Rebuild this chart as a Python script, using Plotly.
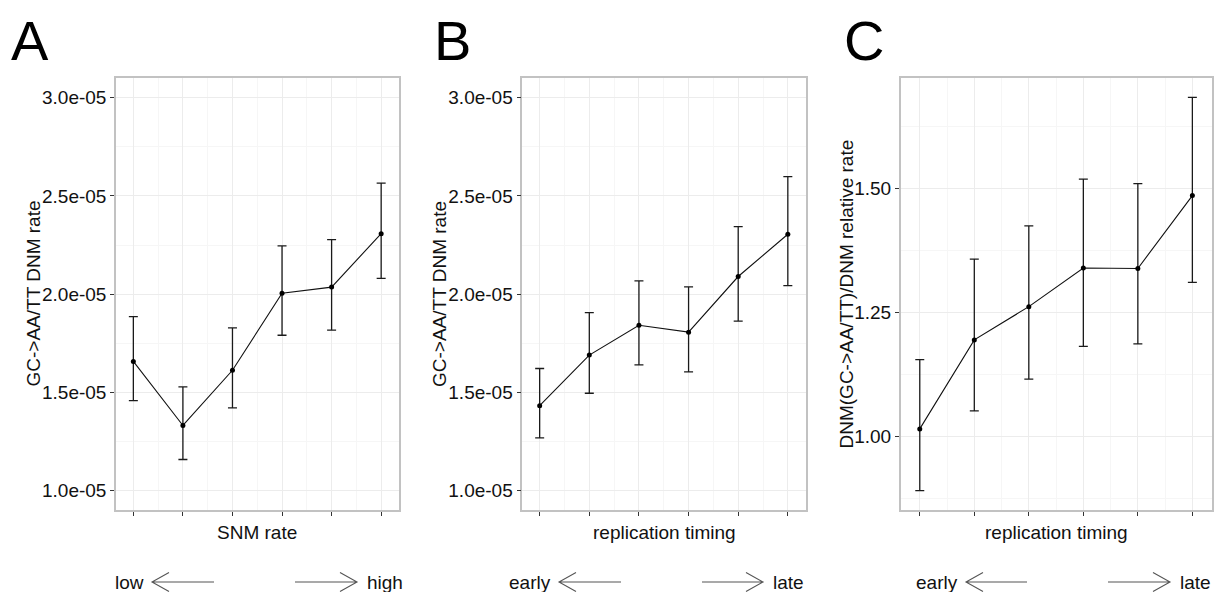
import plotly.graph_objects as go

# ---------------- data ----------------
bins = [1, 2, 3, 4, 5, 6]

# Panel A: GC->AA/TT DNM rate vs SNM rate
a_rate = [1.658e-05, 1.332e-05, 1.613e-05, 2.005e-05, 2.036e-05, 2.308e-05]
a_upper = [1.886e-05, 1.528e-05, 1.829e-05, 2.246e-05, 2.278e-05, 2.565e-05]
a_lower = [1.459e-05, 1.159e-05, 1.422e-05, 1.791e-05, 1.817e-05, 2.081e-05]

# Panel B: GC->AA/TT DNM rate vs replication timing
b_rate = [1.433e-05, 1.690e-05, 1.842e-05, 1.807e-05, 2.090e-05, 2.305e-05]
b_upper = [1.622e-05, 1.906e-05, 2.068e-05, 2.037e-05, 2.344e-05, 2.598e-05]
b_lower = [1.269e-05, 1.496e-05, 1.640e-05, 1.605e-05, 1.863e-05, 2.044e-05]

# Panel C: relative rate vs replication timing
c_rate = [1.0155, 1.195, 1.262, 1.340, 1.339, 1.486]
c_upper = [1.155, 1.358, 1.425, 1.519, 1.510, 1.684]
c_lower = [0.891, 1.052, 1.116, 1.182, 1.187, 1.311]

ab_ticks = [1.0e-05, 1.5e-05, 2.0e-05, 2.5e-05, 3.0e-05]
ab_ticktext = ["1.0e-05", "1.5e-05", "2.0e-05", "2.5e-05", "3.0e-05"]
ab_minor = [1.25e-05, 1.75e-05, 2.25e-05, 2.75e-05]
c_ticks = [1.00, 1.25, 1.50]
c_ticktext = ["1.00", "1.25", "1.50"]
c_minor = [0.875, 1.125, 1.375, 1.625]

panel_letters = ["A", "B", "C"]
y_titles = ["GC->AA/TT DNM rate", "GC->AA/TT DNM rate", "DNM(GC->AA/TT)/DNM relative rate"]
x_titles = ["SNM rate", "replication timing", "replication timing"]
low_labels = ["low", "early", "early"]
high_labels = ["high", "late", "late"]

# ---------------- layout constants (page pixels) ----------------
OFF = 8                      # default body margin of the html page
FW, FH = 1224 - 2 * OFF, 600 - 2 * OFF
FONT = "Liberation Sans, Arial, Helvetica, sans-serif"
TXT = "#111111"
plot_x = [(116, 399), (522.3, 805.7), (900.7, 1212)]
plot_y = (78, 510)
letter_x = [10, 433, 843]
ytitle_x = [32.5, 439, 845.5]
arrow_left = [(152, 214), (559, 621), (966, 1027)]
arrow_right = [(295, 357), (702, 763), (1108, 1170)]
arrow_y = 582


def px(x):
    return (x - OFF) / FW


def py(y):
    return 1 - (y - OFF) / FH


fig = go.Figure()

series = [
    (a_rate, a_upper, a_lower),
    (b_rate, b_upper, b_lower),
    (c_rate, c_upper, c_lower),
]

for i, (rate, up, lo) in enumerate(series):
    n = i + 1
    xa = "x" if n == 1 else f"x{n}"
    ya = "y" if n == 1 else f"y{n}"
    fig.add_trace(go.Scatter(
        x=bins, y=rate, xaxis=xa, yaxis=ya,
        mode="lines+markers",
        line=dict(color="#111111", width=1.1),
        marker=dict(color="#000000", size=5),
        error_y=dict(
            type="data", symmetric=False,
            array=[u - r for u, r in zip(up, rate)],
            arrayminus=[r - l for r, l in zip(rate, lo)],
            color="#1a1a1a", thickness=1.3, width=4.5,
        ),
        showlegend=False, hoverinfo="skip",
    ))

grid_major = "#ececec"
grid_minor = "#f6f6f6"
border = "#c2c2c2"

layout = dict(
    width=FW, height=FH,
    margin=dict(l=0, r=0, t=0, b=0),
    paper_bgcolor="white", plot_bgcolor="white",
    font=dict(family=FONT, size=19, color=TXT),
    showlegend=False,
)

for i in range(3):
    n = i + 1
    xk = "xaxis" if n == 1 else f"xaxis{n}"
    yk = "yaxis" if n == 1 else f"yaxis{n}"
    x0, x1 = plot_x[i]
    layout[xk] = dict(
        domain=[px(x0), px(x1)], anchor="y" if n == 1 else f"y{n}",
        range=[0.65, 6.36], tickmode="linear", tick0=1, dtick=1,
        showticklabels=False, ticks="outside", ticklen=4, tickwidth=1.2, tickcolor="#333333",
        showgrid=True, gridcolor=grid_major, gridwidth=1,
        minor=dict(tickmode="linear", tick0=0.5, dtick=1, showgrid=True,
                   gridcolor=grid_minor, gridwidth=1, ticks=""),
        showline=True, linecolor=border, linewidth=1.5, mirror=True,
        zeroline=False, automargin=False, fixedrange=True,
    )
    if i < 2:
        yrange = [0.902e-05, 3.1e-05]
        tv, tt, mv = ab_ticks, ab_ticktext, ab_minor
    else:
        yrange = [0.852, 1.723]
        tv, tt, mv = c_ticks, c_ticktext, c_minor
    layout[yk] = dict(
        domain=[py(plot_y[1]), py(plot_y[0])], anchor="x" if n == 1 else f"x{n}",
        range=yrange, tickmode="array", tickvals=tv, ticktext=tt,
        tickfont=dict(family=FONT, size=19, color=TXT),
        ticks="outside", ticklen=4, tickwidth=1.2, tickcolor="#333333",
        showgrid=True, gridcolor=grid_major, gridwidth=1,
        minor=dict(tickmode="array", tickvals=mv, showgrid=True,
                   gridcolor=grid_minor, gridwidth=1, ticks=""),
        showline=True, linecolor=border, linewidth=1.5, mirror=True,
        zeroline=False, automargin=False, fixedrange=True,
    )

fig.update_layout(**layout)

annotations = []
shapes = []
for i in range(3):
    x0, x1 = plot_x[i]
    # panel letter (box kept inside the figure's top edge)
    annotations.append(dict(
        text=panel_letters[i], x=px(letter_x[i]), y=1.0, xref="paper", yref="paper",
        xanchor="left", yanchor="top", showarrow=False, borderpad=0,
        font=dict(family=FONT, size=56, color="#000000"),
    ))
    # y title
    annotations.append(dict(
        text=y_titles[i], x=px(ytitle_x[i]), y=py((plot_y[0] + plot_y[1]) / 2),
        xref="paper", yref="paper", xanchor="center", yanchor="middle",
        textangle=-90, showarrow=False,
        font=dict(family=FONT, size=19, color=TXT),
    ))
    # x title
    annotations.append(dict(
        text=x_titles[i], x=px((x0 + x1) / 2), y=py(532), xref="paper", yref="paper",
        xanchor="center", yanchor="middle", showarrow=False,
        font=dict(family=FONT, size=19, color=TXT),
    ))
    # low / high labels
    lt, lb = arrow_left[i]
    rt, rh = arrow_right[i]
    annotations.append(dict(
        text=low_labels[i], x=px(lt - 6), y=py(arrow_y), xref="paper", yref="paper",
        xanchor="right", yanchor="middle", showarrow=False,
        font=dict(family=FONT, size=19, color=TXT),
    ))
    annotations.append(dict(
        text=high_labels[i], x=px(rh + 8), y=py(arrow_y), xref="paper", yref="paper",
        xanchor="left", yanchor="middle", showarrow=False,
        font=dict(family=FONT, size=19, color=TXT),
    ))
    # arrows (open chevron heads)
    ah_dx, ah_dy = 17, 9.5
    left_path = (f"M {px(lb)} {py(arrow_y)} L {px(lt)} {py(arrow_y)} "
                 f"M {px(lt + ah_dx)} {py(arrow_y - ah_dy)} L {px(lt)} {py(arrow_y)} "
                 f"L {px(lt + ah_dx)} {py(arrow_y + ah_dy)}")
    right_path = (f"M {px(rt)} {py(arrow_y)} L {px(rh)} {py(arrow_y)} "
                  f"M {px(rh - ah_dx)} {py(arrow_y - ah_dy)} L {px(rh)} {py(arrow_y)} "
                  f"L {px(rh - ah_dx)} {py(arrow_y + ah_dy)}")
    for p in (left_path, right_path):
        shapes.append(dict(type="path", path=p, xref="paper", yref="paper",
                           line=dict(color="#555555", width=1.1)))

fig.update_layout(annotations=annotations, shapes=shapes)

fig.write_html("out.html")
